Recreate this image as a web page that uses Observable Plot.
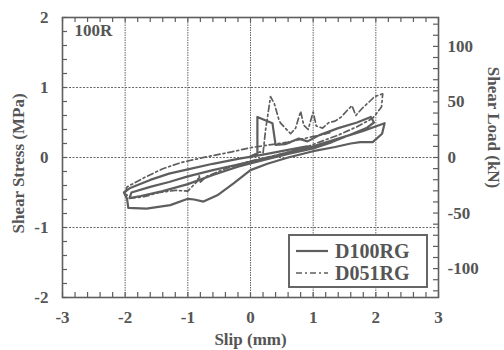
<!DOCTYPE html>
<html><head><meta charset="utf-8">
<script src="https://cdn.jsdelivr.net/npm/d3@7"></script>
<script src="https://cdn.jsdelivr.net/npm/@observablehq/plot@0.6"></script>
<style>
body{margin:0;background:#fff;}
#wrap{position:relative;width:504px;height:350px;}
#wrap svg{display:block;}
#legend{position:absolute;left:288px;top:234px;width:136px;height:50px;border:2px solid #666;background:#fff;
 font-family:"Liberation Serif",serif;font-weight:bold;font-size:20px;color:#555;}
#legend .row{position:absolute;left:6px;height:22px;display:flex;align-items:center;}
#legend svg{margin-right:7px;}
</style>
</head><body>
<div id="wrap"><div id="legend"></div></div>
<script>
// ---- data (slip in mm, shear stress in MPa) ----
const d100Slip = [0,0.11,0.11,0.35,0.40,0.55,0.64,0.77,0.91,1.1,1.4,1.7,1.92,1.97,1.85,1.6,1.3,1.0,0.6,0.2,-0.2,-0.6,-1.0,-1.4,-1.75,-1.93,-1.9,-1.6,-1.3,-1.0,-0.6,-0.2,0.2,0.6,1.0,1.4,1.8,2.05,2.14,2.10,1.95,1.75,1.6,1.35,1.0,0.6,0.27,0,-0.27,-0.53,-0.75,-0.9,-1.0,-1.28,-1.66,-1.95,-1.97,-2.02,-1.93,-1.6,-1.3,-1.0,-0.6,-0.2,0.2,0.6,0.9];
const d100Stress = [0,0.06,0.58,0.49,0.18,0.19,0.22,0.27,0.23,0.32,0.42,0.50,0.58,0.50,0.42,0.33,0.22,0.13,0.05,-0.04,-0.13,-0.25,-0.38,-0.48,-0.55,-0.58,-0.50,-0.42,-0.35,-0.27,-0.18,-0.10,-0.02,0.07,0.16,0.27,0.38,0.46,0.49,0.34,0.22,0.22,0.20,0.15,0.09,0.0,-0.09,-0.18,-0.37,-0.54,-0.63,-0.60,-0.59,-0.68,-0.73,-0.72,-0.59,-0.50,-0.44,-0.32,-0.23,-0.17,-0.09,-0.02,0.04,0.11,0.16];
const d051Slip = [0,0.15,0.2,0.24,0.32,0.38,0.45,0.48,0.64,0.72,0.80,0.85,0.92,1.0,1.05,1.15,1.25,1.35,1.45,1.55,1.62,1.68,1.78,1.9,1.98,2.11,2.09,1.95,1.7,1.4,1.1,0.8,0.4,0.0,-0.4,-0.7,-0.80,-0.82,-0.85,-1.0,-1.2,-1.45,-1.7,-1.9,-2.0,-1.97,-1.7,-1.4,-1.1,-0.7,-0.3,0,0.3,0.6,1.0,1.3];
const d051Stress = [0.02,0.08,0.06,0.39,0.87,0.77,0.55,0.49,0.34,0.42,0.66,0.46,0.40,0.65,0.45,0.42,0.50,0.52,0.58,0.68,0.74,0.60,0.70,0.80,0.87,0.91,0.72,0.56,0.44,0.32,0.22,0.12,0.03,-0.05,-0.16,-0.27,-0.35,-0.26,-0.34,-0.48,-0.47,-0.50,-0.56,-0.58,-0.52,-0.42,-0.29,-0.16,-0.07,0.01,0.08,0.14,0.18,0.22,0.30,0.36];

const xTicks = [-3,-2,-1,0,1,2,3];
const yTicks = [-2,-1,0,1,2];
const xGrid = [-2,-1,0,1,2];
const yGrid = [-1,0,1];
const loadTicks = [-100,-50,0,50,100];
const loadPerStress = 63; // kN per MPa
const xMinor = d3.range(-3, 3.001, 0.2);
const yMinor = d3.range(-2, 2.001, 0.2);
const loadMinor = d3.range(-120, 121, 10);
const seriesNames = ["D100RG","D051RG"];

const d100 = d100Slip.map((x,i)=>({x, y:d100Stress[i]}));
const d051 = d051Slip.map((x,i)=>({x, y:d051Stress[i]}));
const gray = "#5e5e5e";
const W = 504, H = 350, ML = 62, MR = 66, MT = 17, MB = 53;
const fw = W - ML - MR, fh = H - MT - MB, tl = 5;

const chart = Plot.plot({
  width:W, height:H,
  marginLeft:ML, marginRight:MR, marginTop:MT, marginBottom:MB,
  x:{domain:[-3,3]},
  y:{domain:[-2,2]},
  style:{fontFamily:"'Liberation Serif', serif", fontWeight:"bold", fontSize:"17px", color:"#555", background:"#fff"},
  marks:[
    Plot.gridX(xGrid, {stroke:"#666", strokeOpacity:1, strokeDasharray:"1.5,1"}),
    Plot.gridY(yGrid, {stroke:"#666", strokeOpacity:1, strokeDasharray:"2,1.5"}),
    Plot.line(d100, {x:"x", y:"y", stroke:gray, strokeWidth:2.2}),
    Plot.line(d051, {x:"x", y:"y", stroke:gray, strokeWidth:1.7, strokeDasharray:"6,3,2,3"}),
    // inward minor ticks
    Plot.tickX(xMinor, {x:d=>d, insetTop:fh-tl, stroke:gray, strokeWidth:1.2}),
    Plot.tickX(xMinor, {x:d=>d, insetBottom:fh-tl, stroke:gray, strokeWidth:1.2}),
    Plot.tickY(yMinor, {y:d=>d, insetRight:fw-tl, stroke:gray, strokeWidth:1.2}),
    Plot.tickY(loadMinor.map(v=>v/loadPerStress).filter(v=>v>=-2&&v<=2), {y:d=>d, insetLeft:fw-tl, stroke:gray, strokeWidth:1.2}),
    Plot.frame({stroke:gray, strokeWidth:1.6}),
    Plot.axisX(xTicks, {anchor:"bottom", tickSize:0, tickPadding:13, label:null, fontSize:17, fill:"#555", tickFormat:d=>String(d)}),
    Plot.axisY(yTicks, {anchor:"left", tickSize:0, tickPadding:14, label:null, fontSize:17, fill:"#555", tickFormat:d=>String(d)}),
    Plot.axisY(loadTicks.map(v=>v/loadPerStress), {anchor:"right", tickSize:0, tickPadding:9, label:null, fontSize:17, fill:"#555", tickFormat:d=>String(Math.round(d*loadPerStress))}),
    Plot.text(["Slip (mm)"], {frameAnchor:"bottom", textAnchor:"middle", lineAnchor:"middle", dy:42, fontSize:17, fill:"#555"}),
    Plot.text(["Shear Stress (MPa)"], {frameAnchor:"left", textAnchor:"middle", lineAnchor:"middle", dx:-44, dy:6, rotate:-90, fontSize:17, fill:"#555"}),
    Plot.text(["Shear Load (kN)"], {frameAnchor:"right", textAnchor:"middle", lineAnchor:"middle", dx:55, dy:-30, rotate:90, fontSize:17, fill:"#555"}),
    Plot.text(["100R"], {frameAnchor:"top-left", textAnchor:"start", lineAnchor:"middle", dx:12, dy:13, fontSize:17, fill:"#555"})
  ]
});
document.getElementById("wrap").prepend(chart);

// legend
const leg = document.getElementById("legend");
seriesNames.forEach((name,i)=>{
  const row = document.createElement("div");
  row.className="row";
  row.style.top = (i===0? 4 : 26) + "px";
  const dash = i===0 ? "" : "stroke-dasharray='6,3,2,3'";
  row.innerHTML = `<svg width="32" height="6"><line x1="0" y1="3" x2="32" y2="3" stroke="${gray}" stroke-width="${i===0?2.2:1.7}" ${dash}/></svg><span>${name}</span>`;
  leg.appendChild(row);
});
</script>
</body></html>
